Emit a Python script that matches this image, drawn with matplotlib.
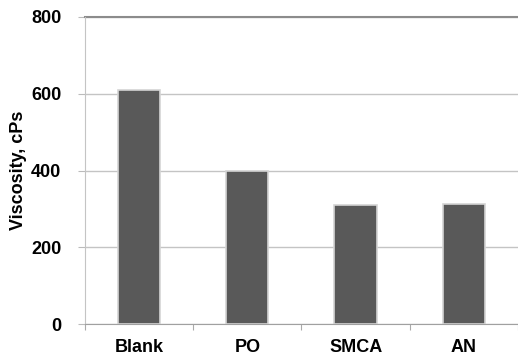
import numpy as np
import matplotlib.pyplot as plt

categories = ['Blank', 'PO', 'SMCA', 'AN']
viscosity = [610, 400, 310, 312]
yticks = [0, 200, 400, 600, 800]

plt.rcParams['font.family'] = ['Liberation Sans', 'DejaVu Sans']
plt.rcParams['font.weight'] = 'bold'

fig = plt.figure(figsize=(5.18, 3.57), dpi=100)
ax = fig.add_axes([0.164, 0.0924, 0.836, 0.8600])

x = np.arange(len(categories))
ax.bar(x, viscosity, width=0.39, color='#595959', edgecolor='#d4d4d4',
       linewidth=1.2, zorder=3)

ax.set_xlim(-0.5, 3.48)
ax.set_ylim(0, 800)
ax.set_yticks(yticks)
ax.set_yticklabels([str(t) for t in yticks], fontsize=13, fontweight='bold')
ax.set_xticks(x)
ax.set_xticklabels(categories, fontsize=13, fontweight='bold')
ax.tick_params(axis='x', length=0, pad=11)
ax.tick_params(axis='y', length=5, color='#bbbbbb', pad=12)

# category boundary ticks on the bottom axis
ax.set_xticks(np.arange(-0.5, 3.6, 1.0), minor=True)
ax.tick_params(axis='x', which='minor', length=4, color='#aaaaaa', width=0.8)

ax.grid(axis='y', color='#c4c4c4', linewidth=1.0, zorder=0)
ax.axhline(800, color='#8c8c8c', linewidth=1.5, zorder=2, clip_on=False)

for s in ['top', 'right']:
    ax.spines[s].set_visible(False)
ax.spines['left'].set_color('#c4c4c4')
ax.spines['bottom'].set_color('#a0a0a0')

ax.set_ylabel('Viscosity, cPs', fontsize=13, fontweight='bold', labelpad=3)

fig.savefig('out.png', dpi=100)
